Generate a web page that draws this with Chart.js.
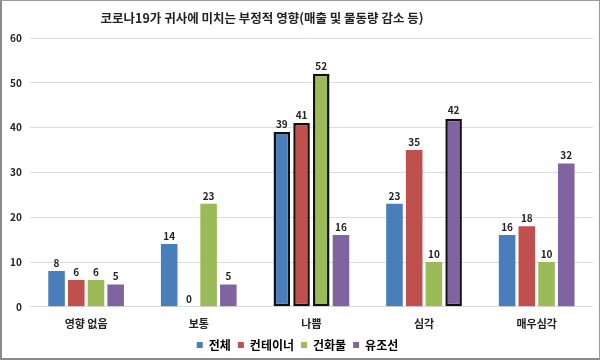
<!DOCTYPE html>
<html lang="ko">
<head>
  <meta charset="UTF-8">
  <title>코로나19가 귀사에 미치는 부정적 영향</title>
  <script src="https://cdn.jsdelivr.net/npm/chart.js"></script>
  <style>
    body {
      margin: 0;
      padding: 0;
      background: #fff;
    }
    .frame {
      box-sizing: border-box;
      width: 600px;
      height: 360px;
      border: 1px solid #9a9a9a;
      border-left: 2px solid #8a8a8a;
      border-bottom: 2px solid #8a8a8a;
    }
  </style>
</head>
<body>
  <div class="frame">
    <canvas id="chart" width="597" height="357"></canvas>
  </div>

  <script>
    // categories and series
    const categories = ['영향 없음', '보통', '나쁨', '심각', '매우심각'];
    const total = [8, 14, 39, 23, 16];
    const container = [6, 0, 41, 35, 18];
    const dryBulk = [6, 23, 52, 10, 10];
    const tanker = [5, 5, 16, 42, 32];
    const yTicks = [0, 10, 20, 30, 40, 50, 60];
    const titleText = '코로나19가 귀사에 미치는 부정적 영향(매출 및 물동량 감소 등)';

    const FONT = "'Noto Sans CJK KR', 'Noto Sans', sans-serif";

    // bars that carry the thick black outline (dataset -> category indexes)
    const outlined = {
      0: [2],
      1: [2],
      2: [2],
      3: [3]
    };

    function makeSet(label, data, color, idx) {
      return {
        label: label,
        data: data,
        backgroundColor: color,
        borderColor: '#111',
        borderWidth: data.map((v, i) => outlined[idx].includes(i) ? 2.5 : 0),
        borderSkipped: false,
        categoryPercentage: 0.7,
        barPercentage: 0.84
      };
    }

    // value labels above each bar
    const valueLabels = {
      id: 'valueLabels',
      afterDatasetsDraw(chart) {
        const ctx = chart.ctx;
        ctx.save();
        ctx.font = 'bold 10px ' + FONT;
        ctx.fillStyle = '#222';
        ctx.textAlign = 'center';
        ctx.textBaseline = 'bottom';
        chart.data.datasets.forEach((ds, di) => {
          chart.getDatasetMeta(di).data.forEach((bar, i) => {
            ctx.fillText(ds.data[i], bar.x, bar.y - 3);
          });
        });
        ctx.restore();
      }
    };

    // the title sits left of centre in the original
    const offsetTitle = {
      id: 'offsetTitle',
      afterDraw(chart) {
        const ctx = chart.ctx;
        ctx.save();
        ctx.font = 'bold 12.5px ' + FONT;
        ctx.fillStyle = '#222';
        ctx.textAlign = 'center';
        ctx.textBaseline = 'middle';
        ctx.fillText(titleText, 260, 17);
        ctx.restore();
      }
    };

    new Chart(document.getElementById('chart'), {
      type: 'bar',
      data: {
        labels: categories,
        datasets: [
          makeSet('전체', total, '#4a7ebb', 0),
          makeSet('컨테이너', container, '#c0504d', 1),
          makeSet('건화물', dryBulk, '#9bbb59', 2),
          makeSet('유조선', tanker, '#8064a2', 3)
        ]
      },
      options: {
        responsive: false,
        animation: false,
        layout: {
          padding: { left: 0, right: 6, top: 37, bottom: -3 }
        },
        plugins: {
          title: { display: false },
          legend: {
            position: 'bottom',
            labels: {
              color: '#222',
              font: { family: FONT, size: 12, weight: 'bold' },
              boxWidth: 6,
              boxHeight: 6,
              padding: 7,
              generateLabels(chart) {
                return chart.data.datasets.map((ds, i) => ({
                  text: ds.label,
                  fillStyle: ds.backgroundColor,
                  strokeStyle: ds.backgroundColor,
                  lineWidth: 0,
                  datasetIndex: i
                }));
              }
            }
          },
          tooltip: { enabled: false }
        },
        scales: {
          x: {
            grid: { display: false },
            border: { display: false },
            ticks: {
              color: '#222',
              font: { family: FONT, size: 11, weight: 'bold' },
              padding: 2
            }
          },
          y: {
            min: 0,
            max: 60,
            afterBuildTicks(axis) {
              axis.ticks = yTicks.map(v => ({ value: v }));
            },
            grid: { color: '#dcdcdc', drawTicks: false },
            border: { display: false },
            ticks: {
              color: '#222',
              font: { family: FONT, size: 10, weight: 'bold' },
              padding: 8
            }
          }
        }
      },
      plugins: [valueLabels, offsetTitle]
    });
  </script>
</body>
</html>
